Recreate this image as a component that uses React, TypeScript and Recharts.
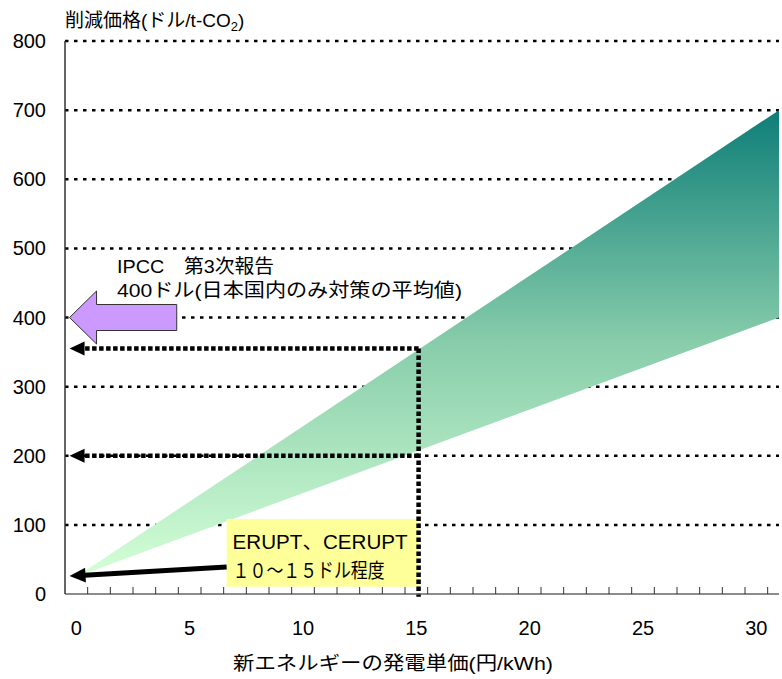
import React from "react";
import {ComposedChart, Area, XAxis, YAxis, CartesianGrid, ReferenceLine, ReferenceArea} from "recharts";

// 新エネルギーの発電単価 (円/kWh) and the price band edges (ドル/t-CO2)
const costX = [0, 31];
const lowerPrice = [25, 400];
const upperPrice = [25, 700];

const xLabelTicks = [0, 5, 10, 15, 20, 25, 30];
const xMinorTicks = [0.5, 1.5, 2.5, 3.5, 4.5, 5.5, 6.5, 7.5, 8.5, 9.5, 10.5, 11.5, 12.5, 13.5, 14.5, 15.5,
    16.5, 17.5, 18.5, 19.5, 20.5, 21.5, 22.5, 23.5, 24.5, 25.5, 26.5, 27.5, 28.5, 29.5, 30.5];
const yTicks = [0, 100, 200, 300, 400, 500, 600, 700, 800];
const gridValues = [100, 200, 300, 400, 500, 600, 700, 800];

// annotations
const ipccPrice = 400;
const ipccArrowFrom = 4.43;
const targetCost = 15.1;
const targetUpper = 355;
const targetLower = 200;
const eruptBox = {x1: 6.63, x2: 15.1, y1: 10.6, y2: 108.5};
const eruptArrow = [{x: 6.63, y: 39}, {x: -0.3, y: 26}];
const arrowTipX = -0.3;

const FONT = '"Liberation Sans", "Noto Sans CJK JP", sans-serif';

const data = costX.map((x, i) => ({x, band: [lowerPrice[i], upperPrice[i]]}));
const allXTicks = [...xLabelTicks, ...xMinorTicks].sort((a, b) => a - b);

const XTick = (props: any) => {
    const {x, y, payload} = props;
    if (xLabelTicks.includes(payload.value)) {
        return <text x={x} y={y + 41} textAnchor="middle" fontSize={20} fontFamily={FONT} fill="#000">{payload.value}</text>;
    }
    return <line x1={x} x2={x} y1={y} y2={y - 7} stroke="#333" strokeWidth={1}/>;
};

// line with a solid triangular head at (x2, y2)
const arrowShape = (width: number, dash: string | undefined, headLen: number, headW: number) => (p: any) => {
    const {x1, y1, x2, y2} = p;
    const dx = x2 - x1, dy = y2 - y1;
    const len = Math.hypot(dx, dy) || 1;
    const ux = dx / len, uy = dy / len;
    const bx = x2 - ux * headLen, by = y2 - uy * headLen;
    const nx = -uy * headW / 2, ny = ux * headW / 2;
    return (
        <g>
            <line x1={x1} y1={y1} x2={bx + ux * 1} y2={by + uy * 1} stroke="#000" strokeWidth={width} strokeDasharray={dash}/>
            <polygon points={`${x2},${y2} ${bx + nx},${by + ny} ${bx - nx},${by - ny}`} fill="#000"/>
        </g>
    );
};

const blockArrow = (p: any) => {
    const {x1, y1, x2} = p;
    const y = y1;
    const back = x2 + 27;
    const pts = [[x2, y], [back, y - 26.5], [back, y - 13], [x1, y - 13], [x1, y + 13], [back, y + 13], [back, y + 26.5]];
    return <polygon points={pts.map(q => q.join(',')).join(' ')} fill="#CC99FF" stroke="#333" strokeWidth={1}/>;
};

const eruptBoxShape = (p: any) => {
    const {x, y, width, height} = p;
    return (
        <g>
            <rect x={x} y={y} width={width} height={height} fill="#FFFF99"/>
            <text x={x + 6} y={y + 30} fontSize={20} fontFamily={FONT} fill="#000" textLength={175} lengthAdjust="spacingAndGlyphs">ERUPT、CERUPT</text>
            <text x={x + 6} y={y + 59} fontSize={20} fontFamily={FONT} fill="#000" textLength={152} lengthAdjust="spacingAndGlyphs">１０～１５ドル程度</text>
        </g>
    );
};

export default function App() {
    return (
        <div style={{position: 'absolute', left: 0, top: 0}}>
            <ComposedChart width={782} height={679} data={data} margin={{top: 41, right: 3, bottom: 0, left: 0}}>
                <defs>
                    <linearGradient id="bandFill" x1="0" y1="0" x2="0" y2="1">
                        <stop offset="0%" stopColor="#0E7E78"/>
                        <stop offset="50%" stopColor="#88CDAB"/>
                        <stop offset="100%" stopColor="#D4FFD6"/>
                    </linearGradient>
                </defs>
                <CartesianGrid vertical={false} horizontalValues={gridValues} stroke="#000" strokeWidth={2.5} strokeDasharray="3.5 5.5"/>
                <XAxis dataKey="x" type="number" domain={[-0.5, 31]} allowDataOverflow ticks={allXTicks} interval={0}
                       tick={<XTick/>} tickLine={false} tickSize={0} tickMargin={0} height={85}
                       axisLine={{stroke: '#666', strokeWidth: 1.5}}/>
                <YAxis type="number" domain={[0, 800]} ticks={yTicks} interval={0} width={65} tickLine={false}
                       tickSize={0} tickMargin={19} axisLine={{stroke: '#333', strokeWidth: 1.5}}
                       tick={{fontSize: 20, fontFamily: FONT, fill: '#000'}}/>
                <Area dataKey="band" type="linear" stroke="none" fill="url(#bandFill)" fillOpacity={1} isAnimationActive={false}/>
                <ReferenceArea x1={eruptBox.x1} x2={eruptBox.x2} y1={eruptBox.y1} y2={eruptBox.y2} ifOverflow="visible" shape={eruptBoxShape}/>
                <ReferenceLine segment={[{x: ipccArrowFrom, y: ipccPrice}, {x: arrowTipX, y: ipccPrice}]} ifOverflow="visible" shape={blockArrow}/>
                <ReferenceLine segment={[{x: targetCost, y: targetUpper}, {x: targetCost, y: -4}]} ifOverflow="visible"
                               stroke="#000" strokeWidth={4.5} strokeDasharray="4.5 2.5"/>
                <ReferenceLine segment={[{x: targetCost, y: targetUpper}, {x: arrowTipX, y: targetUpper}]} ifOverflow="visible"
                               shape={arrowShape(4.5, "4.5 2.5", 15, 14)}/>
                <ReferenceLine segment={[{x: targetCost, y: targetLower}, {x: arrowTipX, y: targetLower}]} ifOverflow="visible"
                               shape={arrowShape(4.5, "4.5 2.5", 15, 14)}/>
                <ReferenceLine segment={eruptArrow} ifOverflow="visible" shape={arrowShape(5, undefined, 16, 15)}/>
                <text x={65} y={27} fontSize={19} fontFamily={FONT} fill="#000">
                    削減価格(ドル/t-CO<tspan fontSize={13} dy={4}>2</tspan><tspan dy={-4}>)</tspan>
                </text>
                <text x={233} y={670} fontSize={19} fontFamily={FONT} fill="#000" textLength={320} lengthAdjust="spacingAndGlyphs">
                    新エネルギーの発電単価(円/kWh)
                </text>
                <text x={117} y={273} fontSize={19} fontFamily={FONT} fill="#000" textLength={157} lengthAdjust="spacingAndGlyphs">IPCC　第3次報告</text>
                <text x={117} y={297} fontSize={19} fontFamily={FONT} fill="#000" textLength={345} lengthAdjust="spacingAndGlyphs">400ドル(日本国内のみ対策の平均値)</text>
            </ComposedChart>
        </div>
    );
}
